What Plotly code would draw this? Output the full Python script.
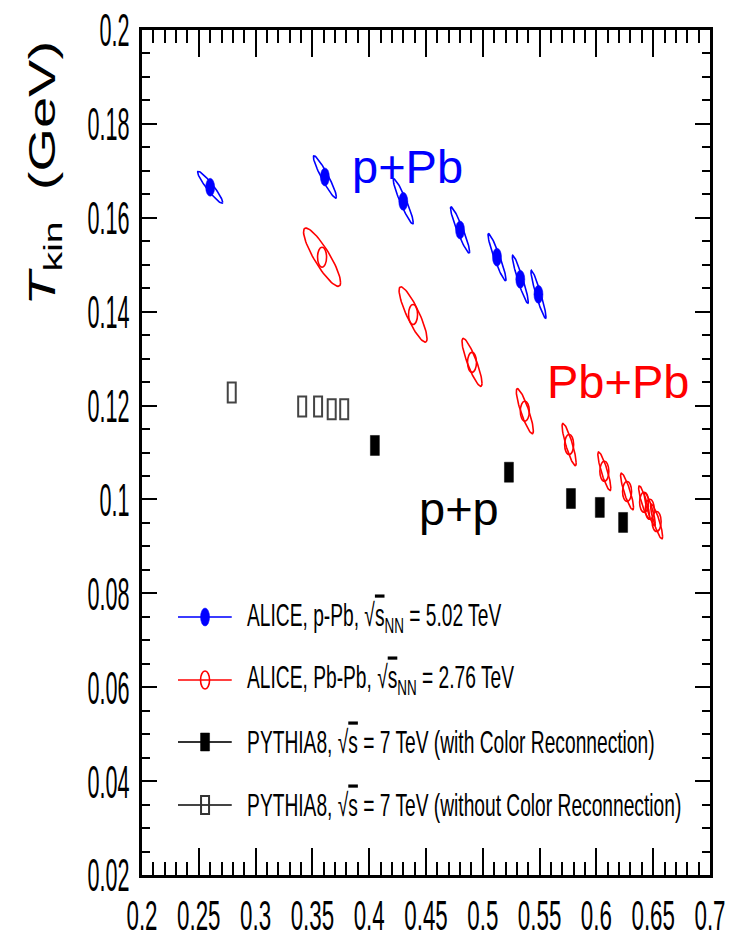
import numpy as np
import plotly.graph_objects as go

# ALICE p-Pb (5.02 TeV): <beta_T> vs T_kin, with correlated uncertainty contours
ppb_beta = [0.260, 0.361, 0.430, 0.480, 0.5125, 0.533, 0.549]
ppb_tkin = [0.1665, 0.1687, 0.1635, 0.1574, 0.1516, 0.1469, 0.1437]
ppb_sx = [0.0110, 0.0101, 0.0088, 0.0084, 0.0079, 0.0070, 0.0066]
ppb_sy = [0.0034, 0.0045, 0.0048, 0.0049, 0.0050, 0.0051, 0.0051]
ppb_rho = -0.94

# ALICE Pb-Pb (2.76 TeV)
pbpb_beta = [0.3585, 0.4386, 0.4905, 0.537, 0.576, 0.607, 0.627, 0.642, 0.647, 0.653]
pbpb_tkin = [0.1516, 0.1394, 0.1292, 0.1188, 0.1117, 0.1060, 0.1017, 0.0994, 0.0979, 0.0953]
pbpb_sx = [0.0163, 0.0123, 0.0088, 0.0075, 0.0062, 0.0057, 0.0057, 0.0048, 0.0048, 0.0053]
pbpb_sy = [0.0062, 0.0059, 0.0051, 0.0048, 0.0045, 0.0041, 0.0039, 0.0035, 0.0035, 0.0037]
pbpb_rho = -0.87

# PYTHIA8 pp 7 TeV, with colour reconnection
cr_beta = [0.405, 0.523, 0.5776, 0.603, 0.6235]
cr_tkin = [0.1115, 0.1058, 0.1002, 0.0983, 0.0951]

# PYTHIA8 pp 7 TeV, without colour reconnection
nocr_beta = [0.279, 0.341, 0.355, 0.367, 0.378]
nocr_tkin = [0.1228, 0.1198, 0.1198, 0.1192, 0.1192]

x_ticks = [0.2, 0.25, 0.3, 0.35, 0.4, 0.45, 0.5, 0.55, 0.6, 0.65, 0.7]
y_ticks = [0.02, 0.04, 0.06, 0.08, 0.1, 0.12, 0.14, 0.16, 0.18, 0.2]

FONT = "Liberation Sans, Arial, Helvetica, sans-serif"
BLUE, RED = "#0000ff", "#ff0000"


def contours(cx, cy, sx, sy, rho, n=72):
    t = np.linspace(0, 2 * np.pi, n)
    xs, ys = [], []
    for x0, y0, ax, ay in zip(cx, cy, sx, sy):
        xs += list(x0 + ax * np.cos(t)) + [None]
        ys += list(y0 + ay * (rho * np.cos(t) + np.sqrt(1 - rho ** 2) * np.sin(t))) + [None]
    return xs, ys


fig = go.Figure()
for cx, cy, sx, sy, rho, col in [
    (ppb_beta, ppb_tkin, ppb_sx, ppb_sy, ppb_rho, BLUE),
    (pbpb_beta, pbpb_tkin, pbpb_sx, pbpb_sy, pbpb_rho, RED),
]:
    ex, ey = contours(cx, cy, sx, sy, rho)
    fig.add_trace(go.Scatter(x=ex, y=ey, mode="lines", line=dict(color=col, width=1.6),
                             showlegend=False, hoverinfo="skip"))

shapes = []


def marker(x, y, kind, fill, line, w, h, ref="x", lw=1.6):
    shapes.append(dict(type=kind, xref=ref, yref="y" if ref == "x" else "paper",
                       xsizemode="pixel", ysizemode="pixel", xanchor=x, yanchor=y,
                       x0=-w / 2, x1=w / 2, y0=-h / 2, y1=h / 2,
                       fillcolor=fill, line=dict(color=line, width=lw)))


for x, y in zip(ppb_beta, ppb_tkin):
    marker(x, y, "circle", BLUE, BLUE, 9, 18, lw=0.5)
for x, y in zip(pbpb_beta, pbpb_tkin):
    marker(x, y, "circle", "rgba(0,0,0,0)", RED, 9, 20)
for x, y in zip(cr_beta, cr_tkin):
    marker(x, y, "rect", "#000000", "#000000", 9, 20, lw=0.5)
for x, y in zip(nocr_beta, nocr_tkin):
    marker(x, y, "rect", "rgba(0,0,0,0)", "#444444", 8, 20, lw=2)

# legend drawn in paper coordinates
SQRT_S = "√<span style='text-decoration:overline'>s</span>"
legend_rows = [
    (f"ALICE, p-Pb, {SQRT_S}<sub>NN</sub> = 5.02 TeV",
     "#3b3bff", ("circle", BLUE, BLUE, 9, 18, 0.5)),
    (f"ALICE, Pb-Pb, {SQRT_S}<sub>NN</sub> = 2.76 TeV",
     "#ff4040", ("circle", "rgba(0,0,0,0)", RED, 9, 18, 1.6)),
    (f"PYTHIA8, {SQRT_S} = 7 TeV (with Color Reconnection)",
     "#333333", ("rect", "#000000", "#000000", 9, 18, 0.5)),
    (f"PYTHIA8, {SQRT_S} = 7 TeV (without Color Reconnection)",
     "#444444", ("rect", "rgba(0,0,0,0)", "#333333", 8, 18, 2)),
]
legend_y = [0.3053, 0.2308, 0.1574, 0.0828]
annotations = []
for (label, lcol, mk), ly in zip(legend_rows, legend_y):
    shapes.append(dict(type="line", xref="paper", yref="paper", x0=0.0634, x1=0.158,
                       y0=ly, y1=ly, line=dict(color=lcol, width=2)))
    kind, fill, line, w, h, lw = mk
    marker(0.111, ly, kind, fill, line, w, h, ref="paper", lw=lw)
    annotations.append(dict(xref="paper", yref="paper", x=0.181, y=ly, xanchor="left",
                            yanchor="middle", text=label, showarrow=False,
                            font=dict(family=FONT, size=32, color="#000000")))

annotations += [
    dict(x=0.434, y=0.171, text="p+Pb", showarrow=False,
         font=dict(family=FONT, size=47, color=BLUE)),
    dict(x=0.619, y=0.1252, text="Pb+Pb", showarrow=False,
         font=dict(family=FONT, size=47, color=RED)),
    dict(x=0.479, y=0.0981, text="p+p", showarrow=False,
         font=dict(family=FONT, size=47, color="#000000")),
    dict(xref="paper", yref="paper", x=-0.171, y=0.831, xanchor="center", yanchor="middle",
         textangle=-90, showarrow=False,
         text="<i>T</i><sub>kin</sub>  (GeV)",
         font=dict(family=FONT, size=56, color="#000000")),
]

axis_common = dict(showgrid=False, zeroline=False, showline=True, linecolor="#000000",
                   linewidth=3, mirror="ticks", ticks="inside", tickcolor="#000000",
                   tickwidth=2, tickangle=0, automargin=False, ticklabeloverflow="allow")

fig.update_layout(
    width=732, height=938,
    margin=dict(l=142, r=22, t=30, b=63),
    paper_bgcolor="#ffffff", plot_bgcolor="#ffffff",
    showlegend=False,
    xaxis=dict(range=[0.2, 0.7], tickvals=x_ticks, ticklen=27,
               tickfont=dict(family=FONT, size=43, color="#000000"),
               minor=dict(dtick=0.01, ticklen=13, ticks="inside", tickcolor="#000000", tickwidth=2),
               **axis_common),
    yaxis=dict(range=[0.02, 0.2], tickvals=y_ticks, ticklen=15,
               tickfont=dict(family=FONT, size=47, color="#000000"),
               minor=dict(dtick=0.005, ticklen=8, ticks="inside", tickcolor="#000000", tickwidth=2),
               **axis_common),
    shapes=shapes,
    annotations=annotations,
)

# Condensed lettering: narrow the tick labels and legend text horizontally,
# and the rotated axis title across its height.
condense_js = """
var gd = document.getElementById('{plot_id}');
function squeeze(el, kx, ky, mode) {
  var bb = el.getBBox();
  var ax = mode === 'left' ? bb.x : (mode === 'right' ? bb.x + bb.width : bb.x + bb.width / 2);
  var ay = bb.y + bb.height / 2;
  var prev = el.getAttribute('transform') || '';
  el.setAttribute('transform', prev + ' translate(' + ax + ',' + ay + ') scale(' + kx + ',' + ky +
                  ') translate(' + (-ax) + ',' + (-ay) + ')');
}
gd.querySelectorAll('g.xtick text').forEach(function (t) { squeeze(t, 0.52, 1, 'center'); });
gd.querySelectorAll('g.ytick text').forEach(function (t) { squeeze(t, 0.46, 1, 'right'); });
gd.querySelectorAll('text.annotation-text').forEach(function (t) {
  var s = t.textContent;
  if (s.indexOf('ALICE') === 0 || s.indexOf('PYTHIA') === 0) { squeeze(t, 0.6, 1, 'left'); }
  else if (s.indexOf('GeV') >= 0) { squeeze(t, 1, 0.65, 'center'); }
});
"""

fig.write_html("out.html", post_script=condense_js)
